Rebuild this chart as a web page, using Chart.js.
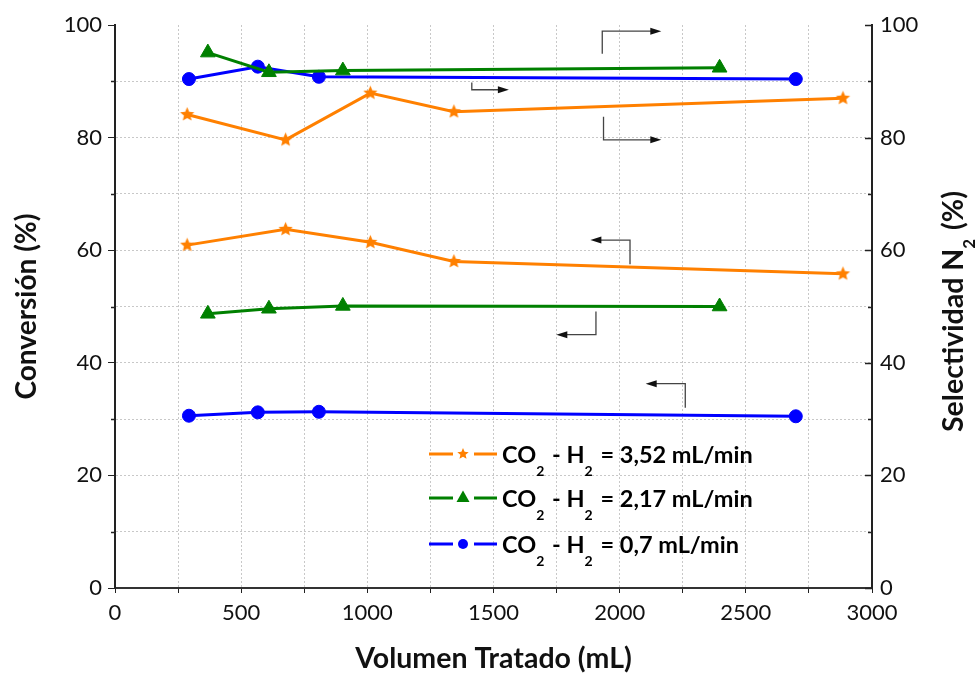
<!DOCTYPE html>
<html>
<head>
<meta charset="utf-8">
<script src="https://cdn.jsdelivr.net/npm/chart.js@4.4.1/dist/chart.umd.min.js"></script>
<style>
  html, body { margin: 0; padding: 0; background: #fff; }
  #wrap { width: 975px; height: 676px; }
</style>
</head>
<body>
<div id="wrap"><canvas id="chart"></canvas></div>
<script>
// values
const volOrange = [286, 676, 1012, 1343, 2885]
const convOrange = [60.9, 63.7, 61.4, 58.0, 55.8]
const selOrange = [84.1, 79.6, 87.9, 84.6, 87.0]

const volGreen = [368, 610, 903, 2396]
const convGreen = [48.7, 49.6, 50.1, 50.0]
const selGreen = [95.1, 91.6, 91.9, 92.4]

const volBlue = [293, 566, 808, 2698]
const convBlue = [30.6, 31.2, 31.3, 30.5]
const selBlue = [90.4, 92.6, 90.8, 90.4]

const flowLabels = ['3,52', '2,17', '0,7']

// small L-arrows pointing each curve to its axis: [x, yStart, yCorner, xTip]
const arrows = [
    [1931, 94.9, 98.9, 2165],
    [1414, 89.8, 88.5, 1561],
    [1936, 83.7, 79.6, 2165],
    [2041, 57.5, 61.8, 1884],
    [1906, 49.1, 45.0, 1749],
    [2260, 32.0, 36.3, 2103],
]

const orange = 'rgb(255, 128, 0)'
const green = 'rgb(0, 128, 0)'
const blue = 'rgb(0, 0, 255)'
const family = 'Lato, "Open Sans", sans-serif'

function starPath(g, cx, cy, ro, ri) {
    g.beginPath()
    for (let i = 0; i < 10; i++) {
        const r = i % 2 ? ri : ro
        const a = -Math.PI / 2 + i * Math.PI / 5
        g.lineTo(cx + r * Math.cos(a), cy + r * Math.sin(a))
    }
    g.closePath()
}

function makeStar(r, color) {
    const c = document.createElement('canvas')
    c.width = c.height = Math.ceil(r * 2 + 2)
    const g = c.getContext('2d')
    starPath(g, c.width / 2, c.height / 2, r, r * 0.45)
    g.fillStyle = color
    g.fill()
    return c
}

const starImg = makeStar(7.5, orange)

function series(label, xs, ys, color, style, radius, axis) {
    return {
        label: label,
        data: xs.map((v, i) => ({x: v, y: ys[i]})),
        borderColor: color,
        backgroundColor: color,
        borderWidth: 3,
        pointStyle: style,
        pointRadius: radius,
        pointBorderWidth: 1,
        tension: 0,
        yAxisID: axis,
    }
}

// draws text with subscript parts (odd indexes are subscripts)
function drawSub(ctx, parts, x, y, size, measureOnly) {
    let cx = x
    parts.forEach((p, i) => {
        const sub = i % 2 === 1
        ctx.font = 'bold ' + (sub ? Math.round(size * 0.6) : size) + 'px ' + family
        if (!measureOnly) ctx.fillText(p, cx, sub ? y + size * 0.55 : y)
        cx += ctx.measureText(p).width + (sub ? 2 : 0)
    })
    return cx - x
}

const decor = {
    id: 'decor',
    afterDatasetsDraw(chart) {
        const {ctx, chartArea, scales: {x, y, y2}} = chart
        ctx.save()

        // minor ticks on the left axis, inward ticks on the right one
        ctx.strokeStyle = '#222'
        ctx.lineWidth = 1.5
        ctx.beginPath()
        y.ticks.forEach(t => {
            if (t.value % 20 === 0) return
            const py = Math.round(y.getPixelForValue(t.value)) + 0.5
            ctx.moveTo(chartArea.left, py)
            ctx.lineTo(chartArea.left - 4, py)
        })
        y2.ticks.forEach(t => {
            const py = Math.round(y2.getPixelForValue(t.value)) + 0.5
            ctx.moveTo(chartArea.right, py)
            ctx.lineTo(chartArea.right - (t.value % 20 === 0 ? 7 : 4), py)
        })
        ctx.stroke()

        // arrows
        ctx.strokeStyle = '#444'
        ctx.fillStyle = '#111'
        ctx.lineWidth = 1.3
        arrows.forEach(a => {
            const px = x.getPixelForValue(a[0])
            const p0 = y.getPixelForValue(a[1])
            const p1 = y.getPixelForValue(a[2])
            const pt = x.getPixelForValue(a[3])
            const dir = Math.sign(pt - px)
            ctx.beginPath()
            ctx.moveTo(px, p0)
            ctx.lineTo(px, p1)
            ctx.lineTo(pt - dir * 8, p1)
            ctx.stroke()
            ctx.beginPath()
            ctx.moveTo(pt, p1)
            ctx.lineTo(pt - dir * 11, p1 - 3.5)
            ctx.lineTo(pt - dir * 11, p1 + 3.5)
            ctx.closePath()
            ctx.fill()
        })

        // legend inside the plot
        const colors = [orange, green, blue]
        const lx = chartArea.left + 314
        const rowY = [chartArea.top + 429, chartArea.top + 473, chartArea.top + 519]
        ctx.textBaseline = 'alphabetic'
        ctx.textAlign = 'left'
        flowLabels.forEach((f, i) => {
            const ry = rowY[i]
            ctx.strokeStyle = colors[i]
            ctx.lineWidth = 3
            ctx.beginPath()
            ctx.moveTo(lx, ry); ctx.lineTo(lx + 24, ry)
            ctx.moveTo(lx + 45, ry); ctx.lineTo(lx + 68, ry)
            ctx.stroke()
            ctx.fillStyle = colors[i]
            const mx = lx + 34
            if (i === 0) {
                starPath(ctx, mx, ry, 6, 2.7)
                ctx.fill()
            } else if (i === 1) {
                ctx.beginPath()
                ctx.moveTo(mx, ry - 7.5)
                ctx.lineTo(mx + 6.5, ry + 4)
                ctx.lineTo(mx - 6.5, ry + 4)
                ctx.closePath()
                ctx.fill()
            } else {
                ctx.beginPath()
                ctx.arc(mx, ry, 5, 0, Math.PI * 2)
                ctx.fill()
            }
            ctx.fillStyle = '#000'
            drawSub(ctx, ['CO', '2', ' - H', '2', ' = ' + f + ' mL/min'], lx + 73, ry + 9, 23.5)
        })

        // right axis title, reading bottom to top like the left one
        const parts = ['Selectividad N', '2', ' (%)']
        const w = drawSub(ctx, parts, 0, 0, 28.5, true)
        ctx.translate(chartArea.right + 82, (chartArea.top + chartArea.bottom) / 2 + 5)
        ctx.rotate(-Math.PI / 2)
        ctx.fillStyle = '#111'
        ctx.textBaseline = 'middle'
        drawSub(ctx, parts, -w / 2, 0, 28.5)

        ctx.restore()
    }
}

const tickFont = {family: family, size: 22}
const gridColor = '#c8c8c8'

function createChart() {
    const data = {
        datasets: [
            series('Conv 3,52', volOrange, convOrange, orange, starImg, 7, 'y'),
            series('Sel 3,52', volOrange, selOrange, orange, starImg, 7, 'y2'),
            series('Conv 2,17', volGreen, convGreen, green, 'triangle', 8.5, 'y'),
            series('Sel 2,17', volGreen, selGreen, green, 'triangle', 8.5, 'y2'),
            series('Conv 0,7', volBlue, convBlue, blue, 'circle', 6.5, 'y'),
            series('Sel 0,7', volBlue, selBlue, blue, 'circle', 6.5, 'y2'),
        ]
    }
    const config = {
        type: 'line',
        data: data,
        plugins: [decor],
        options: {
            responsive: true,
            maintainAspectRatio: false,
            animation: false,
            events: [],
            layout: {padding: {top: 25, left: 0, right: 0, bottom: 0}},
            plugins: {
                legend: {display: false},
                tooltip: {enabled: false},
            },
            scales: {
                x: {
                    type: 'linear',
                    min: 0,
                    max: 3000,
                    ticks: {
                        stepSize: 250,
                        autoSkip: false,
                        maxRotation: 0,
                        padding: 7,
                        color: '#111',
                        font: tickFont,
                        callback: v => v % 500 === 0 ? v : '',
                    },
                    grid: {color: gridColor, tickColor: '#222', tickLength: 5},
                    border: {color: '#333', width: 2, dash: [2, 2]},
                    title: {
                        display: true,
                        text: 'Volumen Tratado (mL)',
                        color: '#111',
                        font: {family: family, size: 28.5, weight: 'bold'},
                        padding: {top: 0, bottom: 0},
                    },
                    afterFit: s => { s.height = 88 },
                },
                y: {
                    position: 'left',
                    min: 0,
                    max: 100,
                    ticks: {
                        stepSize: 10,
                        padding: 6,
                        color: '#111',
                        font: tickFont,
                        callback: v => v % 20 === 0 ? v : '',
                    },
                    grid: {
                        color: c => c.tick && c.tick.value === 100 ? 'rgba(0,0,0,0)' : gridColor,
                        tickColor: c => c.tick && c.tick.value % 20 === 0 ? '#222' : 'rgba(0,0,0,0)',
                        tickLength: 7,
                    },
                    border: {color: '#222', width: 2, dash: [2, 2]},
                    title: {
                        display: true,
                        text: 'Conversión (%)',
                        color: '#111',
                        font: {family: family, size: 28, weight: 'bold'},
                        padding: {top: 10, bottom: 0},
                    },
                    afterFit: s => { s.width = 115 },
                },
                y2: {
                    position: 'right',
                    min: 0,
                    max: 100,
                    ticks: {
                        stepSize: 10,
                        padding: 8,
                        color: '#111',
                        font: tickFont,
                        callback: v => v % 20 === 0 ? v : '',
                    },
                    grid: {display: false, drawTicks: false},
                    border: {color: '#222', width: 2},
                    afterFit: s => { s.width = 103 },
                },
            },
        },
    }
    return new Chart(document.getElementById('chart'), config)
}

createChart()
</script>
</body>
</html>
